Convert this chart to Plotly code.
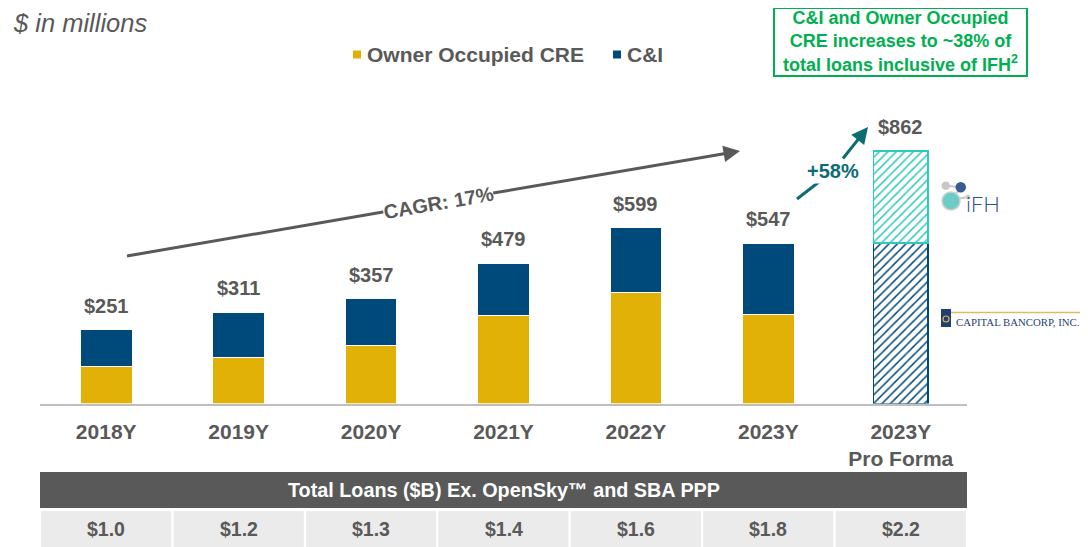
import plotly.graph_objects as go

# ---------------- data ----------------
categories = ["2018Y", "2019Y", "2020Y", "2021Y", "2022Y", "2023Y", "2023Y<br>Pro Forma"]
hist_categories = categories[:6]
owner_occupied_cre = [128, 158, 199, 301, 378, 305]
c_and_i = [123, 153, 158, 178, 221, 242]
totals = [251, 311, 357, 479, 599, 547, 862]
pro_forma_capital = [547]
pro_forma_ifh = [315]
total_loans_b = ["$1.0", "$1.2", "$1.3", "$1.4", "$1.6", "$1.8", "$2.2"]
legend_labels = ["Owner Occupied CRE", "C&I"]

# ---------------- style ----------------
OFF = 8                      # page body margin in the browser
W, H = 1088 - OFF, 547 - OFF
GRAY = "#595959"
YELLOW = "#E1B108"
NAVY = "#00497B"
TEAL = "#2EC8BC"
DTEAL = "#0B6C74"
GREEN = "#00B050"
FONT = "Liberation Sans, Arial, sans-serif"


def px(x):
    return (x - OFF) / W


def py(y):
    return 1 - (y - OFF) / H


fig = go.Figure()

fig.add_trace(go.Bar(
    name=legend_labels[0], x=hist_categories, y=owner_occupied_cre,
    marker=dict(color=YELLOW, line=dict(color="white", width=1)), width=0.39,
))
fig.add_trace(go.Bar(
    name=legend_labels[1], x=hist_categories, y=c_and_i,
    marker=dict(color=NAVY, line=dict(color="white", width=1)), width=0.39,
))
fig.add_trace(go.Bar(
    name="Capital Bancorp", x=categories[6:], y=pro_forma_capital,
    marker=dict(color=NAVY, line=dict(color=NAVY, width=1.5),
                pattern=dict(shape="/", fgcolor=NAVY, bgcolor="white",
                             size=6, solidity=0.25, fillmode="replace")),
    width=0.41,
))
fig.add_trace(go.Bar(
    name="IFH", x=categories[6:], y=pro_forma_ifh,
    marker=dict(color=TEAL, line=dict(color=TEAL, width=1.5),
                pattern=dict(shape="/", fgcolor=TEAL, bgcolor="white",
                             size=6, solidity=0.25, fillmode="replace")),
    width=0.41,
))

annotations = []
# totals above bars
for c, t in zip(categories, totals):
    annotations.append(dict(x=c, y=t, xref="x", yref="y", text=f"<b>${t}</b>",
                            showarrow=False, xanchor="center", yanchor="bottom", yshift=11,
                            font=dict(family=FONT, size=20, color=GRAY)))


def pann(x, y, text, size, color, xanchor="center", **kw):
    d = dict(x=px(x), y=py(y), xref="paper", yref="paper", text=text,
             showarrow=False, xanchor=xanchor, yanchor="middle",
             font=dict(family=kw.pop("family", FONT), size=size, color=color,
                       weight=kw.pop("weight", "normal")))
    d.update(kw)
    return d


# subtitle
annotations.append(pann(11, 23, "<i>$ in millions</i>", 25.5, GRAY, xanchor="left"))

# custom legend
annotations.append(pann(365, 54, f"<b>{legend_labels[0]}</b>", 21, GRAY, xanchor="left"))
annotations.append(pann(625, 54, f"<b>{legend_labels[1]}</b>", 21, GRAY, xanchor="left"))

# CAGR arrow: label sits on the line, arrow runs from label to head
annotations.append(dict(x=px(740), y=py(151), xref="paper", yref="paper",
                        ax=438 - 740, ay=202.5 - 151, axref="pixel", ayref="pixel",
                        text="<b>CAGR: 17%</b>", textangle=-9.8, bgcolor="white",
                        borderpad=0, showarrow=True, arrowhead=2, arrowsize=1.1,
                        arrowwidth=3, arrowcolor=GRAY,
                        font=dict(family=FONT, size=20, color=GRAY)))

# +58% arrow
annotations.append(dict(x=px(868), y=py(127), xref="paper", yref="paper",
                        ax=833 - 868, ay=171 - 127, axref="pixel", ayref="pixel",
                        text="<b>+58%</b>", bgcolor="white", borderpad=1,
                        showarrow=True, arrowhead=2, arrowsize=1.1,
                        arrowwidth=3, arrowcolor=DTEAL,
                        font=dict(family=FONT, size=20, color=DTEAL)))

# green callout
annotations.append(pann(900, 42,
                        "<b>C&I and Owner Occupied<br>CRE increases to ~38% of<br>"
                        "total loans inclusive of IFH<sup>2</sup></b>",
                        18, GREEN, align="center"))

# logos text
annotations.append(pann(964, 203, "iFH", 22, "#2F4F86", xanchor="left",
                        family="Lato, sans-serif", weight=300))
annotations.append(pann(954, 322, "CAPITAL BANCORP, INC.", 10.8, "#1F3F75", xanchor="left",
                        family="Liberation Serif, serif"))

# table header & cells
annotations.append(dict(x=3, y=py(490), xref="x", yref="paper",
                        text="<b>Total Loans ($B) Ex. OpenSky™ and SBA PPP</b>",
                        showarrow=False, xanchor="center", yanchor="middle",
                        font=dict(family=FONT, size=19.8, color="white")))
for c, v in zip(categories, total_loans_b):
    annotations.append(dict(x=c, y=py(529), xref="x", yref="paper",
                            text=f"<b>{v}</b>", showarrow=False,
                            xanchor="center", yanchor="middle",
                            font=dict(family=FONT, size=19.5, color=GRAY)))

shapes = []
# arrow tails (behind the labels)
shapes.append(dict(type="line", xref="paper", yref="paper", x0=px(127), y0=py(256),
                   x1=px(438), y1=py(202.5), line=dict(color=GRAY, width=3)))
shapes.append(dict(type="line", xref="paper", yref="paper", x0=px(797), y0=py(199),
                   x1=px(833), y1=py(171), line=dict(color=DTEAL, width=3)))
# legend squares
shapes.append(dict(type="rect", xref="paper", yref="paper", x0=px(353), x1=px(361),
                   y0=py(58.5), y1=py(50.5), fillcolor=YELLOW, line=dict(width=0)))
shapes.append(dict(type="rect", xref="paper", yref="paper", x0=px(613), x1=px(621),
                   y0=py(58.5), y1=py(50.5), fillcolor=NAVY, line=dict(width=0)))
# green box
shapes.append(dict(type="rect", xref="paper", yref="paper",
                   x0=px(774), x1=px(1027), y0=py(8), y1=py(76),
                   line=dict(color=GREEN, width=2), fillcolor="rgba(0,0,0,0)"))
# table header band
shapes.append(dict(type="rect", xref="x", yref="paper", x0=-0.54, x1=6.5,
                   y0=py(508), y1=py(472), line=dict(width=0), fillcolor=GRAY,
                   layer="below"))
for i in range(len(categories)):
    shapes.append(dict(type="rect", xref="x", yref="paper", x0=i - 0.5, x1=i + 0.5,
                       y0=py(549), y1=py(510), line=dict(color="white", width=2),
                       fillcolor="#EBEBEB", layer="below"))

# IFH logo marks
shapes += [
    dict(type="line", xref="paper", yref="paper", x0=px(946), y0=py(186), x1=px(961), y1=py(187),
         line=dict(color="#C8C8C8", width=2)),
    dict(type="line", xref="paper", yref="paper", x0=px(951), y0=py(200), x1=px(961), y1=py(187),
         line=dict(color="#C8C8C8", width=2)),
    dict(type="line", xref="paper", yref="paper", x0=px(951), y0=py(200), x1=px(968), y1=py(197),
         line=dict(color="#C8C8C8", width=2)),
    dict(type="circle", xref="paper", yref="paper", x0=px(941.5), x1=px(950), y0=py(190), y1=py(181.5),
         fillcolor="#C8C8C8", line=dict(width=0)),
    dict(type="circle", xref="paper", yref="paper", x0=px(955.5), x1=px(966), y0=py(192.5), y1=py(182),
         fillcolor="#3A5A92", line=dict(width=0)),
    dict(type="circle", xref="paper", yref="paper", x0=px(942), x1=px(960), y0=py(210), y1=py(192),
         fillcolor="#6CCCC6", line=dict(color="#D0D0D0", width=1.5)),
    dict(type="circle", xref="paper", yref="paper", x0=px(965.5), x1=px(970.5), y0=py(199.5), y1=py(194.5),
         fillcolor="#D0D0D0", line=dict(width=0)),
]
# Capital Bancorp logo marks
shapes += [
    dict(type="line", xref="paper", yref="paper", x0=px(950), y0=py(312.5), x1=px(1088), y1=py(312.5),
         line=dict(color="#D8C060", width=1.5)),
    dict(type="rect", xref="paper", yref="paper", x0=px(941), x1=px(951), y0=py(327), y1=py(309),
         fillcolor="#1F3F75", line=dict(width=0)),
    dict(type="circle", xref="paper", yref="paper", x0=px(943), x1=px(949), y0=py(322), y1=py(316),
         fillcolor="rgba(0,0,0,0)", line=dict(color="#D8B940", width=1.2)),
]

fig.update_layout(
    width=W, height=H, margin=dict(l=0, r=0, t=0, b=0),
    paper_bgcolor="white", plot_bgcolor="white",
    barmode="stack", bargap=0.6,
    font=dict(family=FONT, color=GRAY),
    showlegend=False,
    xaxis=dict(domain=[px(40), px(967)], range=[-0.5, 6.5], type="category",
               categoryorder="array", categoryarray=categories,
               showline=True, linecolor="#BFBFBF", linewidth=2,
               ticks="outside", ticklen=8, tickcolor="rgba(0,0,0,0)",
               tickfont=dict(family=FONT, size=21, color=GRAY, weight="bold"),
               showgrid=False, zeroline=False, fixedrange=True),
    yaxis=dict(domain=[py(403.5), py(100)], range=[0, (403.5 - 100) / 0.293],
               visible=False, showgrid=False, zeroline=False, fixedrange=True),
    annotations=annotations, shapes=shapes,
)

fig.write_html("out.html")
